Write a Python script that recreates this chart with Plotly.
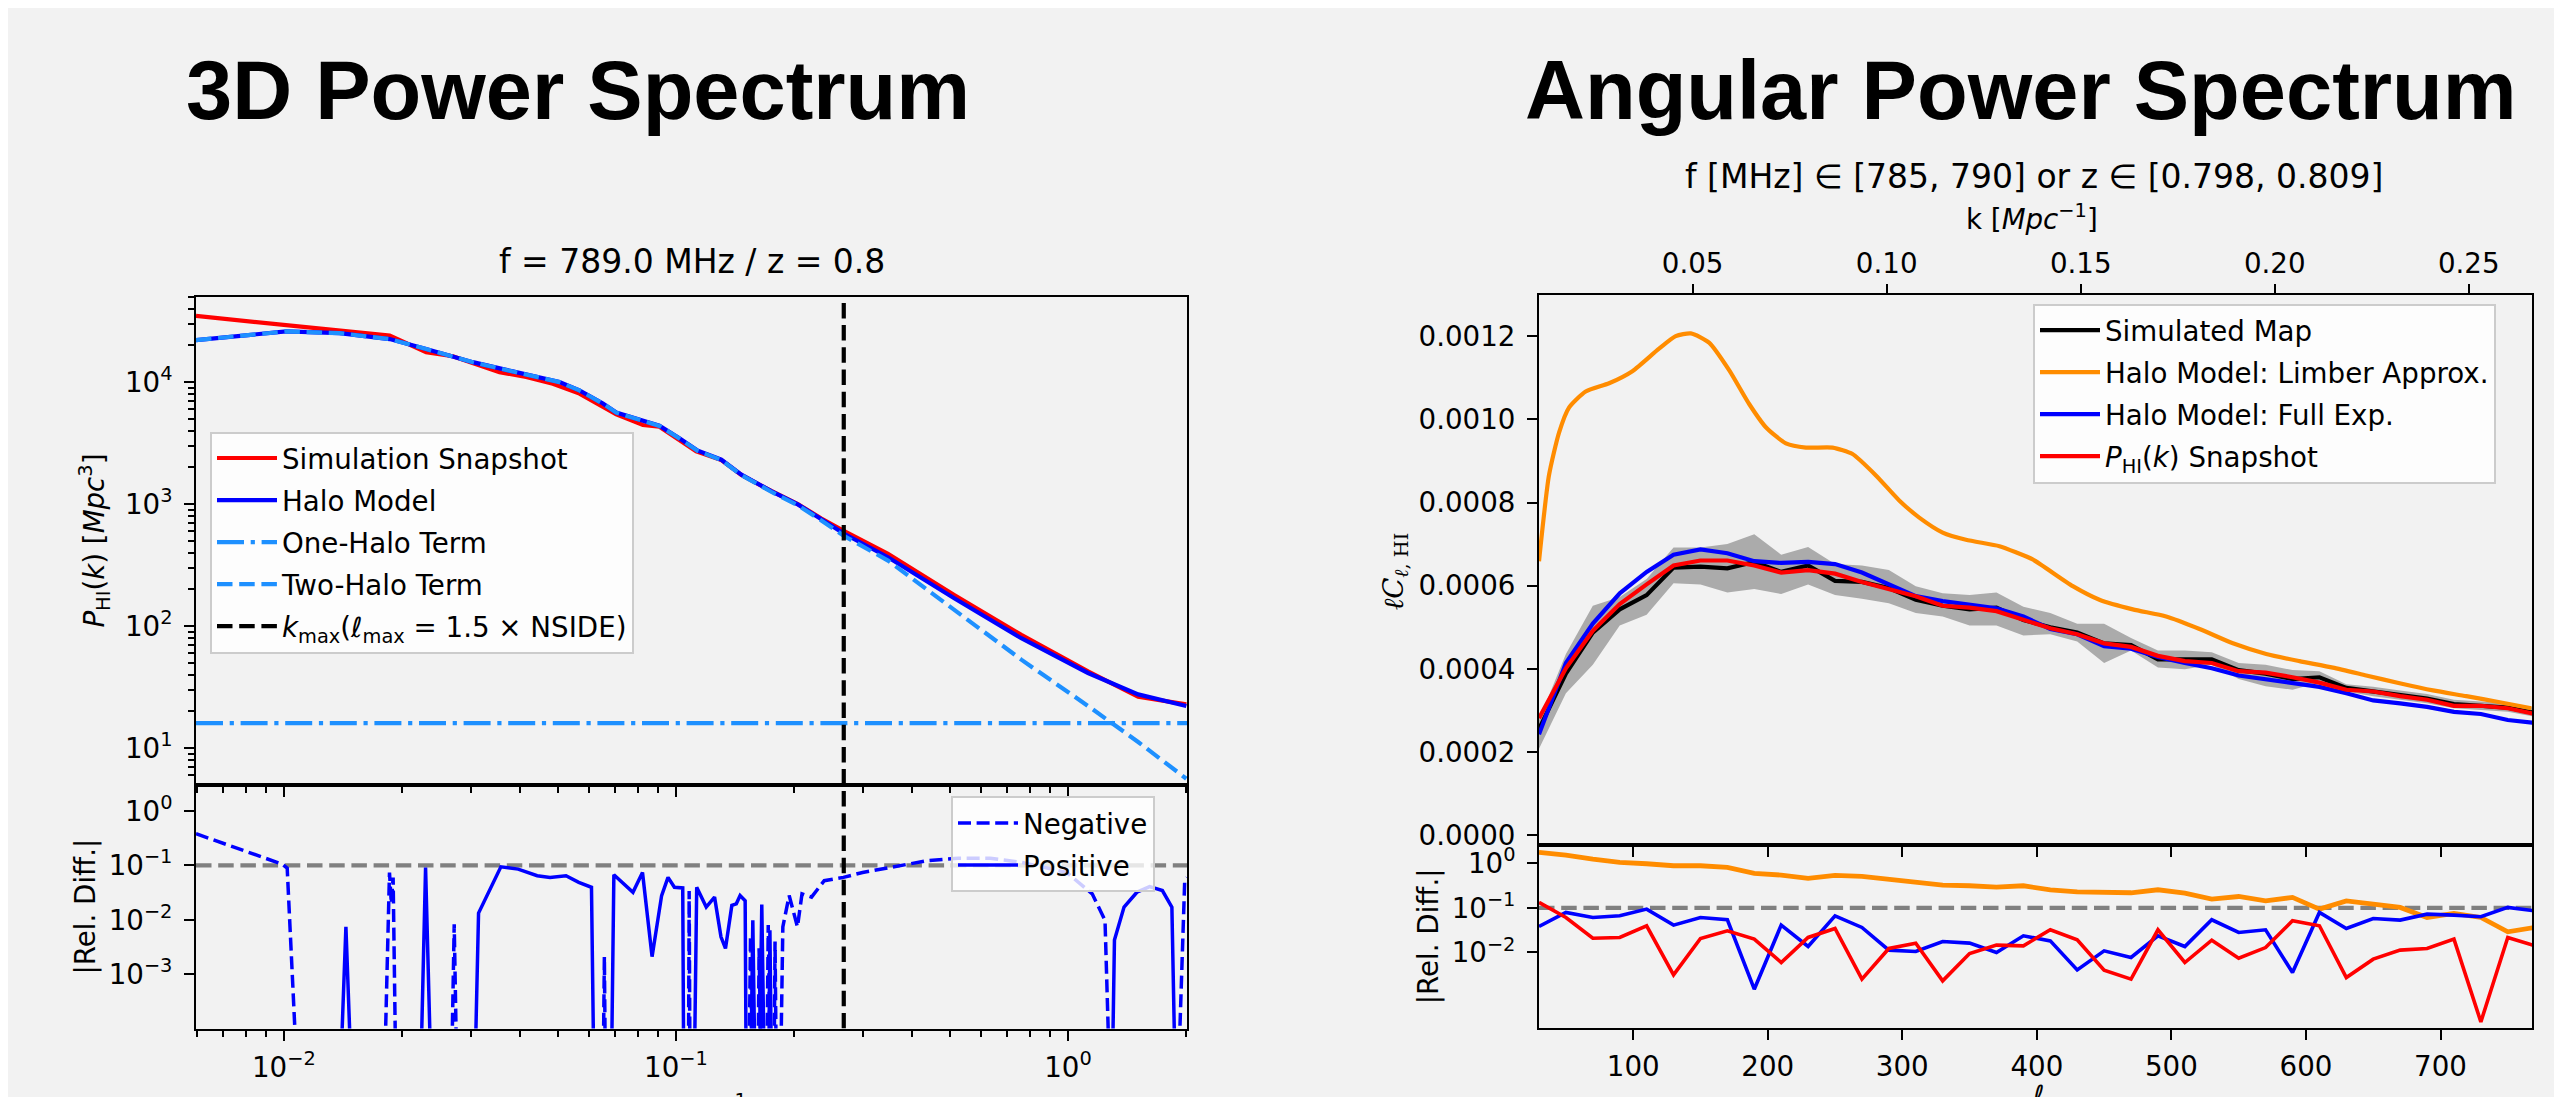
import plotly.graph_objects as go

W, H = 2562, 1097

# ---------------- 3D power spectrum data ----------------
K_HALO = [0.00597, 0.00785, 0.01014, 0.01387, 0.01862, 0.02307, 0.03034, 0.03837, 0.05047,
          0.05675, 0.06516, 0.07047, 0.08072, 0.09078, 0.1021, 0.1138, 0.1306, 0.1469, 0.1750,
          0.2046, 0.2350, 0.2679, 0.3475, 0.5140, 0.7603, 1.125, 1.510, 2.004]
P_HALO = [22080, 24270, 26000, 25180, 22490, 18660, 14550, 12220, 10000,
          8551, 6668, 5623, 4887, 4385, 3459, 2735, 2307, 1742, 1276,
          993, 750, 573, 366, 168, 79.4, 41.2, 27.5, 22.1]
P_TWO_HALO = [22064, 24254, 25984, 25164, 22474, 18644, 14534, 12204, 9984,
              8535, 6652, 5607, 4871, 4369, 3443, 2719, 2291, 1726, 1260,
              977, 734, 549, 344, 135, 53, 22.1, 11.2, 5.6]
K_SIM = [0.00597, 0.01862, 0.02307, 0.02698, 0.03548, 0.04150, 0.04853, 0.05675, 0.07047,
         0.08241, 0.09078, 0.1127, 0.1306, 0.1469, 0.1750, 0.2046, 0.2350, 0.2679, 0.3475,
         0.5140, 0.7603, 1.125, 1.510, 2.004]
P_SIM = [34830, 23990, 17540, 16255, 12050, 10990, 9683, 8035, 5420,
         4446, 4305, 2698, 2290, 1730, 1280, 1000, 760, 603, 390,
         178.6, 84.5, 42.5, 26.3, 22.8]
ONE_HALO = 16.0
K_MAX = 0.268
REL_THRESHOLD = 0.1
TINY = 1e-6

NEG_K = [0.00597, 0.00991, 0.0102, 0.0110, None,
         0.0179, 0.0186, 0.0188, 0.0190, 0.0194, None,
         0.0266, 0.0272, 0.0278, None,
         0.0650, 0.0657, 0.0663, None,
         0.1075, 0.1081, 0.1088, None,
         0.153, 0.155, 0.157, None, 0.1615, 0.163, 0.166, None,
         0.170, 0.172, 0.175, None, 0.1775, 0.179, 0.181, None,
         0.1839, 0.1874, 0.1945, 0.1982, 0.2042, 0.2097, 0.2218, 0.2390, 0.2675, 0.2993,
         0.3609, 0.4352, 0.5251, 0.6332, 0.7636, 0.9925, 1.153, 1.243, 1.290, None,
         1.890, 1.985, 2.012]
NEG_V = [0.382, 0.1054, 0.0891, TINY, None,
         TINY, 0.074, 0.02, 0.06, TINY, None,
         TINY, 0.0083, TINY, None,
         TINY, 0.0021, TINY, None,
         TINY, 0.034, TINY, None,
         TINY, 0.005, TINY, None, TINY, 0.003, TINY, None,
         TINY, 0.008, TINY, None, TINY, 0.004, TINY, None,
         TINY, 0.0074, 0.0279, 0.0171, 0.0074, 0.0300, 0.0261, 0.0524, 0.0602, 0.0743,
         0.0942, 0.1213, 0.1356, 0.1356, 0.113, 0.0743, 0.0300, 0.0098, TINY, None,
         TINY, 0.0524, 0.06]
POS_K = [0.01376, 0.01440, 0.01506, None,
         0.02215, 0.02299, 0.02396, None,
         0.03046, 0.03138, 0.03578, 0.03960, 0.04429, 0.04775, 0.05245, 0.05652, 0.06091, 0.06207, None,
         0.06817, 0.06947, 0.07771, 0.08219, 0.08694, 0.09196, 0.09548, 0.09913, 0.1041, 0.1049, None,
         0.1109, 0.1130, 0.1195, 0.1255, 0.1303, 0.1338, 0.1389, 0.1426, 0.1458, 0.1502, 0.1514, None,
         0.1545, 0.1571, 0.1600, None, 0.1625, 0.1656, 0.1690, None, 0.1720, 0.1737, 0.1760, None,
         1.290, 1.314, 1.390, 1.499, 1.615, 1.741, 1.841, 1.890]
POS_V = [TINY, 0.0074, TINY, None,
         TINY, 0.0917, TINY, None,
         TINY, 0.0133, 0.0942, 0.0855, 0.0647, 0.0602, 0.0647, 0.0489, 0.0396, TINY, None,
         TINY, 0.0675, 0.0321, 0.0743, 0.0021, 0.0279, 0.0602, 0.0396, 0.0385, TINY, None,
         TINY, 0.0396, 0.0171, 0.0261, 0.00486, 0.00298, 0.0184, 0.0197, 0.0279, 0.0225, TINY, None,
         TINY, 0.0098, TINY, None, TINY, 0.0191, TINY, None, TINY, 0.0064, TINY, None,
         TINY, 0.00424, 0.0171, 0.0321, 0.0407, 0.0345, 0.0171, TINY]

# ---------------- Angular power spectrum data ----------------
ELL = [30, 50, 70, 90, 110, 130, 150, 170, 190, 210, 230, 250, 270, 290, 310, 330, 350, 370, 390,
       410, 430, 450, 470, 490, 510, 530, 550, 570, 590, 610, 630, 650, 670, 690, 710, 730, 750, 770]
CL_SIM = [0.0002553, 0.0003883, 0.0004872, 0.000543, 0.0005773, 0.0006434, 0.000646, 0.0006417,
          0.0006572, 0.0006331, 0.0006486, 0.0006117, 0.000609, 0.0005945, 0.0005662, 0.0005516,
          0.000543, 0.0005473, 0.0005173,
          0.0005001, 0.0004872, 0.0004613, 0.000457, 0.0004227, 0.0004227, 0.0004227, 0.0003969,
          0.0003883, 0.0003754, 0.0003797, 0.000354, 0.0003454, 0.0003368, 0.0003283, 0.0003154,
          0.0003111, 0.0003068, 0.000294]
CL_SIM_HI = [0.0002768, 0.0004356, 0.0005516, 0.000573, 0.000616, 0.0006916, 0.0006916, 0.0007001,
             0.0007235, 0.0006744, 0.0006932, 0.000652, 0.0006486, 0.0006374, 0.0005988, 0.0005816,
             0.0005773, 0.0005833, 0.000549,
             0.0005344, 0.0005087, 0.0005087, 0.0004742, 0.0004441, 0.0004441, 0.0004398, 0.0004141,
             0.0004098, 0.0003969, 0.0003943, 0.0003626, 0.000357, 0.000348, 0.0003394, 0.0003257,
             0.0003222, 0.0003171, 0.0003068]
CL_SIM_LO = [0.0002079, 0.0003411, 0.0004098, 0.0005044, 0.0005302, 0.0006057, 0.0006031, 0.0005833,
             0.0005919, 0.00058, 0.0006031, 0.0005773, 0.0005688, 0.0005576, 0.0005344, 0.0005259,
             0.0005044, 0.0005044, 0.0004803,
             0.000483, 0.0004656, 0.0004141, 0.0004441, 0.0004029, 0.000399, 0.0004098, 0.0003754,
             0.0003583, 0.0003497, 0.0003668, 0.0003454, 0.0003343, 0.0003257, 0.0003171, 0.0003051,
             0.0003, 0.0002965, 0.0002845]
CL_FULL = [0.0002424, 0.0004141, 0.0005087, 0.0005816, 0.0006331, 0.0006744, 0.0006873, 0.000678,
           0.0006589, 0.0006546, 0.0006572, 0.000652, 0.0006315, 0.0006031, 0.0005747, 0.0005628,
           0.0005542, 0.0005457, 0.0005259,
           0.0004958, 0.000483, 0.0004546, 0.0004484, 0.0004286, 0.0004141, 0.0004012, 0.000384,
           0.0003754, 0.0003668, 0.0003566, 0.0003411, 0.000324, 0.000317, 0.0003085, 0.0002965,
           0.0002913, 0.0002768, 0.0002698]
CL_SNAP = [0.0002811, 0.0004012, 0.0004915, 0.0005559, 0.0006031, 0.0006486, 0.0006606, 0.0006606,
           0.0006486, 0.0006315, 0.0006374, 0.0006289, 0.000609, 0.0005919, 0.0005747, 0.0005516,
           0.0005473, 0.0005387, 0.0005173,
           0.0004975, 0.000483, 0.0004613, 0.0004527, 0.0004312, 0.0004184, 0.0004141, 0.0003943,
           0.0003909, 0.0003797, 0.0003668, 0.0003497, 0.0003454, 0.0003342, 0.0003257, 0.0003111,
           0.0003111, 0.0003051, 0.0002913]
ELL_LIMBER = [30, 37.4, 44.9, 52.3, 64.7, 82.1, 99.4, 119.2, 131.6, 142.8, 156.4, 171.3, 186.2,
              198.6, 213.5, 228.3, 248.2, 263.0, 280.4, 297.7, 312.6, 330.0, 347.3, 372.2, 384.5,
              396.9, 426.7, 446.5, 471.3, 496.1, 520.9, 545.7, 570.5, 595.2, 620.0, 644.8, 669.6,
              694.4, 719.2, 744.0, 767.5]
CL_LIMBER = [0.0006589, 0.0008651, 0.0009683, 0.0010284, 0.001067, 0.0010868, 0.0011159, 0.00117,
             0.0012002, 0.0012069, 0.0011847, 0.0011185, 0.001037, 0.0009812, 0.0009423, 0.0009321,
             0.0009321, 0.0009166, 0.0008651, 0.000805, 0.0007638, 0.0007278, 0.0007104, 0.000695,
             0.0006803, 0.0006632, 0.0005988, 0.0005662, 0.000543, 0.0005259, 0.0004958, 0.0004613,
             0.0004356, 0.0004184, 0.0004029, 0.000384, 0.0003652, 0.000348, 0.0003342, 0.0003197,
             0.0003051]
REL_LIMBER = [1.736, 1.514, 1.231, 1.037, 0.968, 0.873, 0.873, 0.801, 0.588, 0.540,
              0.454, 0.531, 0.504, 0.439, 0.383, 0.322, 0.311, 0.290, 0.311, 0.253,
              0.228, 0.225, 0.217, 0.253, 0.213, 0.156, 0.179, 0.143, 0.171, 0.0935,
              0.143, 0.121, 0.102, 0.0608, 0.0747, 0.0608, 0.0290, 0.0363]
REL_FULL = [0.0382, 0.0787, 0.0608, 0.0662, 0.0935, 0.0409, 0.0608, 0.0540, 0.00151, 0.0409,
            0.0136, 0.0662, 0.0363, 0.0113, 0.0105, 0.0176, 0.0162, 0.0100, 0.0236, 0.0182,
            0.00409, 0.0109, 0.00773, 0.0236, 0.0136, 0.0540, 0.0281, 0.0322, 0.00356, 0.0787,
            0.0345, 0.0577, 0.0530, 0.0722, 0.0686, 0.0629, 0.102, 0.0857]
REL_SNAP = [0.132, 0.0608, 0.0209, 0.0217, 0.0396, 0.00316, 0.0206, 0.0306, 0.0199, 0.00597,
            0.0217, 0.0345, 0.00253, 0.0123, 0.0162, 0.00232, 0.0095, 0.0146, 0.0141, 0.0322,
            0.0192, 0.00402, 0.00253, 0.0322, 0.00597, 0.0189, 0.00746, 0.0129, 0.0512, 0.0396,
            0.00275, 0.0071, 0.0113, 0.0123, 0.0199, 0.00028, 0.0217, 0.0141]
CHI = 2884.0  # Mpc, converts ell to k on the top axis
TOP_K_TICKS = [0.05, 0.10, 0.15, 0.20, 0.25]

# ---------------- axis ranges ----------------
LX_RANGE = [-2.224, 0.3036]        # log10 k
LYT_RANGE = [0.70, 4.70]           # log10 P
LYB_RANGE = [-4.0, 0.486]          # log10 rel diff
ELL_RANGE = [30, 768]
RYT_RANGE = [-0.000024, 0.0013]
RYB_RANGE = [-3.68, 0.403]

FONT = "DejaVu Sans"
TICK_FONT = dict(family=FONT, size=27.7, color="black")
LW = 4.2


def px(X):
    return X / W


def py(Y):
    return 1 - Y / H


fig = go.Figure()

# ---- left top ----
fig.add_trace(go.Scatter(x=K_SIM, y=P_SIM, mode="lines", name="Simulation Snapshot", legendgroup="a1",
                         line=dict(color="#ff0000", width=LW), xaxis="x", yaxis="y", legend="legend"))
fig.add_trace(go.Scatter(x=K_HALO, y=P_HALO, mode="lines", name="Halo Model", legendgroup="a2",
                         line=dict(color="#0000ff", width=LW), xaxis="x", yaxis="y", legend="legend"))
fig.add_trace(go.Scatter(x=[10 ** LX_RANGE[0], 10 ** LX_RANGE[1]], y=[ONE_HALO, ONE_HALO], mode="lines",
                         name="One-Halo Term", legendgroup="a3",
                         line=dict(color="#1e90ff", width=LW, dash="27px,6.7px,4.2px,6.7px"),
                         xaxis="x", yaxis="y", legend="legend"))
fig.add_trace(go.Scatter(x=K_HALO, y=P_TWO_HALO, mode="lines", name="Two-Halo Term", legendgroup="a4",
                         line=dict(color="#1e90ff", width=LW, dash="15.5px,6.7px"),
                         xaxis="x", yaxis="y", legend="legend"))
fig.add_trace(go.Scatter(x=[K_MAX, K_MAX], y=[10 ** LYT_RANGE[0], 10 ** LYT_RANGE[1]], mode="lines",
                         name="<i>k</i><sub>max</sub>(<i>ℓ</i><sub>max</sub> = 1.5 × NSIDE)", legendgroup="a5",
                         line=dict(color="black", width=LW, dash="15.5px,6.7px"),
                         xaxis="x", yaxis="y", legend="legend"))

# ---- left bottom ----
fig.add_trace(go.Scatter(x=[10 ** LX_RANGE[0], 10 ** LX_RANGE[1]], y=[REL_THRESHOLD, REL_THRESHOLD],
                         mode="lines", showlegend=False,
                         line=dict(color="#808080", width=LW, dash="15.5px,6.7px"), xaxis="x2", yaxis="y2"))
fig.add_trace(go.Scatter(x=NEG_K, y=NEG_V, mode="lines", name="Negative", legendgroup="b1",
                         line=dict(color="#0000ff", width=3.5, dash="13px,5.6px"),
                         xaxis="x2", yaxis="y2", legend="legend2"))
fig.add_trace(go.Scatter(x=POS_K, y=POS_V, mode="lines", name="Positive", legendgroup="b2",
                         line=dict(color="#0000ff", width=3.5),
                         xaxis="x2", yaxis="y2", legend="legend2"))
fig.add_trace(go.Scatter(x=[K_MAX, K_MAX], y=[10 ** LYB_RANGE[0], 10 ** LYB_RANGE[1]], mode="lines",
                         showlegend=False, line=dict(color="black", width=LW, dash="15.5px,6.7px"),
                         xaxis="x2", yaxis="y2"))

# ---- right top ----
fig.add_trace(go.Scatter(x=ELL, y=CL_SIM_LO, mode="lines", line=dict(width=0, color="#ababab"),
                         showlegend=False, xaxis="x3", yaxis="y3", hoverinfo="skip"))
fig.add_trace(go.Scatter(x=ELL, y=CL_SIM_HI, mode="lines", line=dict(width=0, color="#ababab"),
                         fill="tonexty", fillcolor="#ababab",
                         showlegend=False, xaxis="x3", yaxis="y3", hoverinfo="skip"))
fig.add_trace(go.Scatter(x=ELL, y=CL_SIM, mode="lines", name="Simulated Map", legendgroup="c1",
                         line=dict(color="black", width=LW), xaxis="x3", yaxis="y3", legend="legend3"))
fig.add_trace(go.Scatter(x=ELL_LIMBER, y=CL_LIMBER, mode="lines", name="Halo Model: Limber Approx.",
                         legendgroup="c2",
                         line=dict(color="#ff8c00", width=LW, shape="spline", smoothing=0.6),
                         xaxis="x3", yaxis="y3", legend="legend3"))
fig.add_trace(go.Scatter(x=ELL, y=CL_FULL, mode="lines", name="Halo Model: Full Exp.", legendgroup="c3",
                         line=dict(color="#0000ff", width=LW), xaxis="x3", yaxis="y3", legend="legend3"))
fig.add_trace(go.Scatter(x=ELL, y=CL_SNAP, mode="lines", name="<i>P</i><sub>HI</sub>(<i>k</i>) Snapshot",
                         legendgroup="c4",
                         line=dict(color="#ff0000", width=LW), xaxis="x3", yaxis="y3", legend="legend3"))
# invisible trace carrying the top k axis
fig.add_trace(go.Scatter(x=[e / CHI for e in ELL], y=CL_SIM, mode="lines", line=dict(width=0),
                         opacity=0, showlegend=False, hoverinfo="skip", xaxis="x4", yaxis="y3"))

# ---- right bottom ----
fig.add_trace(go.Scatter(x=ELL_RANGE, y=[REL_THRESHOLD, REL_THRESHOLD], mode="lines", showlegend=False,
                         line=dict(color="#808080", width=LW, dash="15.5px,6.7px"), xaxis="x5", yaxis="y5"))
fig.add_trace(go.Scatter(x=ELL, y=REL_LIMBER, mode="lines", showlegend=False,
                         line=dict(color="#ff8c00", width=LW + 0.6), xaxis="x5", yaxis="y5"))
fig.add_trace(go.Scatter(x=ELL, y=REL_FULL, mode="lines", showlegend=False,
                         line=dict(color="#0000ff", width=3.6), xaxis="x5", yaxis="y5"))
fig.add_trace(go.Scatter(x=ELL, y=REL_SNAP, mode="lines", showlegend=False,
                         line=dict(color="#ff0000", width=3.6), xaxis="x5", yaxis="y5"))

# ---------------- axes ----------------
base = dict(showline=True, linecolor="black", linewidth=2, mirror=True, ticks="outside",
            ticklen=10, tickwidth=2, tickcolor="black", showgrid=False, zeroline=False,
            tickfont=TICK_FONT)
minor_log_x = [m * 10 ** d for d in range(-3, 1) for m in range(2, 10)]
minor_log_y = [m * 10 ** d for d in range(0, 5) for m in range(2, 10)]
minor_style = dict(ticks="outside", ticklen=6, tickwidth=1.5, tickcolor="black", showgrid=False)

LXD = [px(188), px(1179)]
RXD = [px(1531), px(2524)]


def sup(e):
    return "10<sup>%s</sup>" % (("−%d" % -e) if e < 0 else str(e))


fig.update_layout(
    xaxis=dict(base, type="log", range=LX_RANGE, domain=LXD, anchor="y", showticklabels=False,
               tickvals=[0.01, 0.1, 1], minor=dict(minor_style, tickvals=minor_log_x)),
    yaxis=dict(base, type="log", range=LYT_RANGE, domain=[py(781), py(289)], anchor="x",
               tickvals=[10, 100, 1000, 10000], ticktext=[sup(1), sup(2), sup(3), sup(4)],
               ticklabelstandoff=6, minor=dict(minor_style, tickvals=minor_log_y)),
    xaxis2=dict(base, type="log", range=LX_RANGE, domain=LXD, anchor="y2",
                tickvals=[0.01, 0.1, 1], ticktext=[sup(-2), sup(-1), sup(0)],
                ticklabelstandoff=3, minor=dict(minor_style, tickvals=minor_log_x)),
    yaxis2=dict(base, type="log", range=LYB_RANGE, domain=[py(1027), py(781)], anchor="x2",
                ticklabelstandoff=6,
                tickvals=[0.001, 0.01, 0.1, 1], ticktext=[sup(-3), sup(-2), sup(-1), sup(0)]),
    xaxis3=dict(base, range=ELL_RANGE, domain=RXD, anchor="y3", showticklabels=False,
                tickvals=[100, 200, 300, 400, 500, 600, 700]),
    xaxis4=dict(base, range=[ELL_RANGE[0] / CHI, ELL_RANGE[1] / CHI], overlaying="x3", side="top",
                anchor="y3", showline=False, mirror=False, tickvals=TOP_K_TICKS, tickformat=".2f"),
    yaxis3=dict(base, range=RYT_RANGE, domain=[py(842), py(287)], anchor="x3", ticklabelstandoff=6,
                tickvals=[0, 0.0002, 0.0004, 0.0006, 0.0008, 0.0010, 0.0012], tickformat=".4f"),
    xaxis5=dict(base, range=ELL_RANGE, domain=RXD, anchor="y5", ticklabelstandoff=3,
                tickvals=[100, 200, 300, 400, 500, 600, 700]),
    yaxis5=dict(base, type="log", range=RYB_RANGE, domain=[py(1026), py(842)], anchor="x5",
                ticklabelstandoff=6,
                tickvals=[0.01, 0.1, 1], ticktext=[sup(-2), sup(-1), sup(0)]),
)

leg_common = dict(xanchor="left", yanchor="top", bgcolor="rgba(255,255,255,0.8)",
                  bordercolor="#cccccc", borderwidth=2, font=dict(family=FONT, size=27.7, color="black"),
                  itemwidth=60, traceorder="grouped", tracegroupgap=3)
fig.update_layout(
    legend=dict(leg_common, x=px(202), y=py(425)),
    legend2=dict(leg_common, x=px(943), y=py(793)),
    legend3=dict(leg_common, x=px(2025), y=py(296)),
)

# ---------------- text ----------------
ann = []


def text(t, X, Y, size, xanchor="center", angle=0, family=FONT, yanchor="middle"):
    ann.append(dict(text=t, x=px(X), y=py(Y), xref="paper", yref="paper", showarrow=False,
                    xanchor=xanchor, yanchor=yanchor, textangle=angle,
                    font=dict(family=family, size=size, color="black")))


text("<b>3D Power Spectrum</b>", 176, 81, 83, xanchor="left", family="Liberation Sans")
text("<b>Angular Power Spectrum</b>", 1515, 81, 83, xanchor="left", family="Liberation Sans")
text("f = 789.0 MHz / z = 0.8", 683.5, 254, 33)
text("f [MHz] ∈ [785, 790] or z ∈ [0.798, 0.809]", 2026, 168, 33)
text("k [<i>Mpc</i><sup>−1</sup>]", 2024, 209, 27.7)
text("<i>P</i><sub>HI</sub>(<i>k</i>) [<i>Mpc</i><sup>3</sup>]", 86, 535, 27.7, angle=-90)
text("|Rel. Diff.|", 78, 904, 27.7, angle=-90)
text("<i>ℓC</i><sub><i>ℓ</i>, HI</sub>", 1387, 566, 27.7, angle=-90, family="DejaVu Serif")
text("|Rel. Diff.|", 1420, 934, 27.7, angle=-90)
text("k [<i>Mpc</i><sup>−1</sup>]", 683.5, 1086, 27.7, yanchor="top")
text("<i>ℓ</i>", 2030, 1076, 27.7, yanchor="top")

fig.update_layout(annotations=ann, width=W, height=H, margin=dict(l=0, r=0, t=0, b=0),
                  paper_bgcolor="#f2f2f2", plot_bgcolor="#f2f2f2", showlegend=True)

fig.write_html("out.html")
